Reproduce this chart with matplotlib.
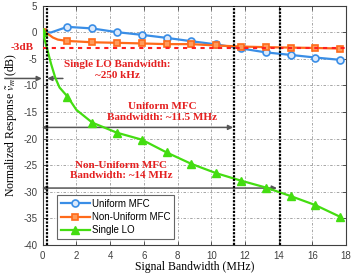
import matplotlib
matplotlib.use("Agg")
import matplotlib.pyplot as plt

# ---- data ----
uni_x = [0, 0.5, 1.0, 1.47, 2.94, 4.41, 5.88, 7.35, 8.82, 10.29, 11.76, 13.24, 14.71, 16.18, 17.65]
uni_y = [0, -0.05, 0.5, 1.0, 0.7, 0.0, -0.5, -1.07, -1.7, -2.3, -3.05, -3.8, -4.27, -4.77, -5.2]
uni_mk = [0, 3, 4, 5, 6, 7, 8, 9, 10, 11, 12, 13, 14]

non_x = [0, 0.3, 0.6, 0.9, 1.47, 2.94, 4.41, 5.88, 7.35, 8.82, 10.29, 11.76, 13.24, 14.71, 16.18, 17.65]
non_y = [0, -0.3, -1.0, -1.4, -1.65, -1.9, -2.0, -2.12, -2.25, -2.25, -2.5, -2.7, -2.82, -2.9, -2.97, -3.08]
non_mk = [0, 4, 5, 6, 7, 8, 9, 10, 11, 12, 13, 14, 15]

lo_x = [0, 0.25, 0.5, 0.75, 1.0, 1.47, 2.0, 2.94, 4.41, 5.88, 7.35, 8.82, 10.29, 11.76, 13.24, 14.71, 16.18, 17.65]
lo_y = [0, -3.0, -6.0, -8.6, -10.4, -12.1, -14.6, -17.0, -18.9, -20.2, -22.6, -24.75, -26.5, -27.9, -29.2, -30.8, -32.5, -34.7]
lo_mk = [0, 5, 7, 8, 9, 10, 11, 12, 13, 14, 15, 16, 17]

bw_single = 0.25
bw_uniform = 11.35
bw_nonuniform = 14.1
ref_db = -3

xticks = [0, 2, 4, 6, 8, 10, 12, 14, 16, 18]
yticks = [5, 0, -5, -10, -15, -20, -25, -30, -35, -40]

# ---- figure ----
plt.rcParams['mathtext.fontset'] = 'stix'
plt.rcParams['axes.unicode_minus'] = False
fig = plt.figure(figsize=(3.57, 2.73), dpi=100)
ax = fig.add_axes([0.1196, 0.1026, 0.8496, 0.877])

c_blue = '#3a8ee6'
c_orange = '#ff6a1a'
c_green = '#44dd11'
c_red = '#e42020'
c_arrow = '#555555'

ax.plot(uni_x, uni_y, '-o', color=c_blue, lw=1.6, ms=5, mfc='#dbe9fb', mec=c_blue, mew=1.2,
        markevery=uni_mk, label='Uniform MFC', zorder=3)
ax.plot(non_x, non_y, '-s', color=c_orange, lw=1.6, ms=5, mfc='#ff9a5a', mec=c_orange, mew=1.2,
        markevery=non_mk, label='Non-Uniform MFC', zorder=3)
ax.plot(lo_x, lo_y, '-^', color=c_green, lw=1.6, ms=6, mfc=c_green, mec=c_green,
        markevery=lo_mk, label='Single LO', zorder=4)

ax.axhline(ref_db, color='#ff2020', lw=1.5, ls=(0, (2, 2.2)), zorder=5)
for xv in (bw_single, bw_uniform, bw_nonuniform):
    ax.axvline(xv, color='black', lw=1.6, ls=(0, (1, 0.6)), zorder=6)

ax.set_xlim(0, 18)
ax.set_ylim(-40, 5)
ax.set_xticks(xticks)
ax.set_yticks(yticks)
ax.grid(True, color='0.6', lw=0.6, ls=(0, (3, 2, 1, 2)))
ax.tick_params(direction='in', length=3, width=0.6, labelsize=7, colors='0.25', pad=4,
               top=True, right=True)
for lab in ax.get_xticklabels() + ax.get_yticklabels():
    lab.set_fontfamily('Liberation Sans')
for sp in ax.spines.values():
    sp.set_color('0.25')
    sp.set_linewidth(0.8)

ax.set_xlabel('Signal Bandwidth (MHz)', fontfamily='Liberation Serif', fontsize=8.5)
ax.set_ylabel(r'Normalized Response $\tilde{v}_m$ (dB)', fontfamily='Liberation Serif',
              fontsize=8.5)
ax.xaxis.set_label_coords(0.5, -0.066)
ax.yaxis.set_label_coords(-0.078, 0.5)

# arrows
ap = dict(arrowstyle='-|>', color=c_arrow, lw=1.1, mutation_scale=7, shrinkA=0, shrinkB=0)
ax.annotate('', xy=(-0.05, -8.7), xytext=(-2.25, -8.7), arrowprops=ap, annotation_clip=False)
ax.annotate('', xy=(0.27, -8.7), xytext=(1.2, -8.7), arrowprops=ap, annotation_clip=False)
ap2 = dict(arrowstyle='<|-|>', color=c_arrow, lw=1.1, mutation_scale=7, shrinkA=0, shrinkB=0)
ax.annotate('', xy=(bw_uniform - 0.05, -17.9), xytext=(-0.05, -17.9), arrowprops=ap2, annotation_clip=False)
ax.annotate('', xy=(bw_nonuniform - 0.2, -29.3), xytext=(-0.05, -29.3), arrowprops=ap2, annotation_clip=False)

tk = dict(color=c_red, fontfamily='Liberation Serif', fontweight='bold', fontsize=8,
          ha='center', va='center', linespacing=1.25)
ax.text(4.45, -7.15, 'Single LO Bandwidth:\n~250 kHz', **tk)
ax.text(7.1, -15.0, 'Uniform MFC\nBandwidth: ~11.5 MHz', **tk)
ax.text(4.65, -26.0, 'Non-Uniform MFC\nBandwidth: ~14 MHz', **tk)
ax.text(-1.2, -2.9, '-3dB', clip_on=False, **tk)

leg = ax.legend(loc='lower left', bbox_to_anchor=(0.046, 0.024), borderaxespad=0,
                prop={'family': 'Liberation Sans', 'size': 7}, handlelength=3.0,
                fancybox=False, framealpha=1, edgecolor='0.4', borderpad=0.4,
                labelspacing=0.35, handletextpad=0.2)
leg.get_frame().set_linewidth(0.8)

fig.savefig('out.png', dpi=100)
